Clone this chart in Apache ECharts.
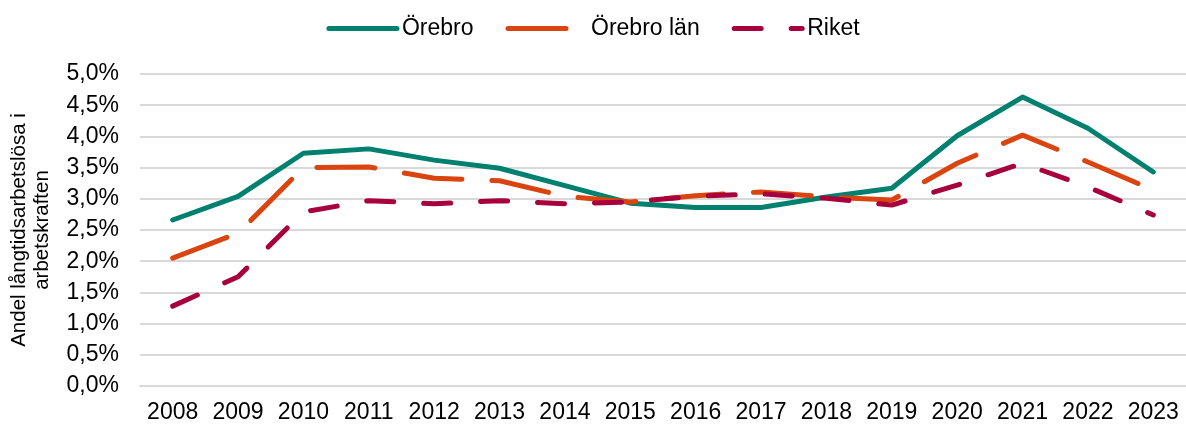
<!DOCTYPE html>
<html>
<head>
<meta charset="utf-8">
<script src="https://cdn.jsdelivr.net/npm/echarts@6/dist/echarts.min.js"></script>
<style>
  html, body { margin: 0; padding: 0; background: #fff; }
  #chart { width: 1186px; height: 424px; }
</style>
</head>
<body>
<div id="chart"></div>
<script>
// år
const years = ['2008', '2009', '2010', '2011', '2012', '2013', '2014', '2015',
    '2016', '2017', '2018', '2019', '2020', '2021', '2022', '2023'];

// andel långtidsarbetslösa, procent
const orebro = [2.66, 3.04, 3.73, 3.80, 3.62, 3.49, 3.21, 2.93, 2.86, 2.86, 3.03, 3.17, 4.01, 4.63, 4.13, 3.43];
const orebroLan = [2.05, 2.45, 3.50, 3.51, 3.33, 3.29, 3.04, 2.95, 3.05, 3.11, 3.03, 2.98, 3.57, 4.02, 3.59, 3.14];
const riket = [1.28, 1.75, 2.79, 2.97, 2.92, 2.97, 2.92, 2.95, 3.04, 3.08, 3.01, 2.90, 3.22, 3.57, 3.19, 2.74];

const yTicks = [0, 0.5, 1, 1.5, 2, 2.5, 3, 3.5, 4, 4.5, 5];

const font = 'Liberation Sans, Arial, sans-serif';

const chart = echarts.init(document.getElementById('chart'));

function line(name, data, color, dash) {
    return {
        name: name,
        type: 'line',
        data: data,
        symbol: 'none',
        smooth: false,
        lineStyle: { color: color, width: 5, type: dash, cap: 'round', join: 'round' },
        itemStyle: { color: color }
    };
}

chart.setOption({
    animation: false,
    textStyle: { fontFamily: font, color: '#000' },
    legend: {
        top: 12,
        left: 'center',
        itemWidth: 68,
        itemHeight: 10,
        itemGap: 32,
        itemStyle: { opacity: 0 },
        lineStyle: { width: 5, cap: 'round' },
        // extra luft före "Örebro län" som i förlagan
        formatter: name => name === 'Örebro län' ? '{p|' + name + '}' : name,
        textStyle: {
            fontSize: 23, color: '#000', fontFamily: font,
            rich: { p: { fontSize: 23, fontFamily: font, color: '#000', padding: [0, 0, 0, 10] } }
        },
        data: ['Örebro', 'Örebro län', 'Riket']
    },
    grid: { left: 139, right: 0, top: 74, bottom: 38, containLabel: false },
    xAxis: {
        type: 'category',
        data: years,
        boundaryGap: true,
        axisLine: { show: true, lineStyle: { color: '#d9d9d9', width: 2 } },
        axisTick: { show: false },
        axisLabel: { fontSize: 23, color: '#000', margin: 15, fontFamily: font, interval: 0 }
    },
    yAxis: {
        type: 'value',
        min: yTicks[0],
        max: yTicks[yTicks.length - 1],
        interval: 0.5,
        name: 'Andel långtidsarbetslösa i\narbetskraften',
        nameLocation: 'middle',
        nameRotate: 90,
        nameGap: 86,
        nameTextStyle: { fontSize: 20.5, color: '#000', fontFamily: font, lineHeight: 23 },
        axisLine: { show: false },
        axisTick: { show: false },
        axisLabel: {
            fontSize: 23, color: '#000', margin: 21, fontFamily: font,
            formatter: v => v.toFixed(1).replace('.', ',') + '%'
        },
        splitLine: { lineStyle: { color: '#d9d9d9', width: 2 } }
    },
    series: [
        line('Örebro', orebro, '#00806f', 'solid'),
        line('Örebro län', orebroLan, '#d9440f', [58, 30]),
        line('Riket', riket, '#a8003d', [27, 30])
    ]
});
</script>
</body>
</html>
